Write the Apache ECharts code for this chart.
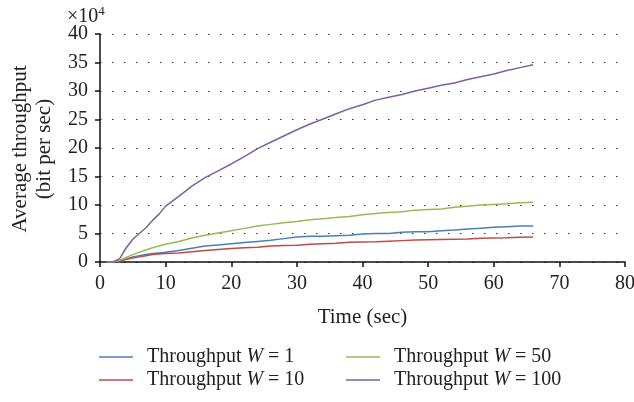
<!DOCTYPE html>
<html>
<head>
<meta charset="utf-8">
<script src="https://cdn.jsdelivr.net/npm/echarts@6/dist/echarts.min.js"></script>
<style>
  html, body { margin: 0; padding: 0; background: #fff; }
  #chart { width: 634px; height: 402px; }
</style>
</head>
<body>
<div id="chart"></div>
<script>
// time in sec, throughput in units of 10^4 bit per sec
var times = [1, 2, 3, 4, 5, 6, 7, 8, 9, 10, 12, 14, 16, 18, 20, 22, 24, 26, 28, 30,
  32, 34, 36, 38, 40, 42, 44, 46, 48, 50, 52, 54, 56, 58, 60, 62, 64, 66];
var w1 = [0, 0, 0.2, 0.5, 0.9, 1.1, 1.3, 1.5, 1.6, 1.7, 2.0, 2.4, 2.8, 3.0, 3.2, 3.4, 3.6, 3.8, 4.1, 4.4,
  4.5, 4.5, 4.6, 4.7, 4.9, 5.0, 5.0, 5.2, 5.3, 5.3, 5.5, 5.6, 5.8, 5.9, 6.1, 6.2, 6.3, 6.3];
var w10 = [0, 0, 0.2, 0.5, 0.7, 0.9, 1.1, 1.3, 1.4, 1.5, 1.6, 1.8, 2.0, 2.2, 2.35, 2.5, 2.6, 2.8, 2.9, 2.95,
  3.1, 3.2, 3.3, 3.45, 3.5, 3.55, 3.65, 3.75, 3.85, 3.9, 3.95, 4.0, 4.05, 4.15, 4.2, 4.25, 4.35, 4.4];
var w50 = [0, 0, 0.3, 0.8, 1.3, 1.7, 2.1, 2.5, 2.8, 3.1, 3.6, 4.2, 4.7, 5.1, 5.5, 5.9, 6.3, 6.6, 6.9, 7.1,
  7.4, 7.6, 7.8, 8.0, 8.3, 8.5, 8.7, 8.8, 9.1, 9.2, 9.3, 9.6, 9.8, 10.0, 10.1, 10.2, 10.4, 10.5];
var w100 = [0, 0, 0.6, 2.5, 4.0, 5.0, 6.0, 7.3, 8.4, 9.8, 11.5, 13.3, 14.8, 16.0, 17.2, 18.5, 19.9, 21.0, 22.1, 23.2,
  24.2, 25.1, 26.0, 26.9, 27.6, 28.4, 28.9, 29.4, 30.0, 30.5, 31.0, 31.4, 32.0, 32.5, 33.0, 33.6, 34.1, 34.6];
var seriesNames = ["Throughput W = 1", "Throughput W = 10", "Throughput W = 50", "Throughput W = 100"];
var colors = ["#4a7ebb", "#be4b48", "#98b954", "#7d60a0"];

var font = "'Liberation Serif', 'DejaVu Serif', serif";

function pairs(ys) {
  return times.map(function (t, i) { return [t, ys[i]]; });
}

function legendLabel(name) {
  // italic W like the figure
  return name.replace("W", "{i|W}");
}

var legendText = {
  fontFamily: font,
  fontSize: 20,
  color: "#222",
  padding: [0, 0, 0, 9],
  rich: { i: { fontFamily: font, fontSize: 20, fontStyle: "italic", color: "#222" } }
};

var chart = echarts.init(document.getElementById("chart"));
chart.setOption({
  animation: false,
  textStyle: { fontFamily: font },
  color: colors,
  grid: { left: 100, right: 9, top: 34, bottom: 140, outerBoundsMode: "none" },
  graphic: [
    {
      type: "text",
      left: 67,
      top: 5,
      style: {
        text: "×10{s|4}",
        font: "20px " + font,
        fill: "#222",
        rich: { s: { fontSize: 13, fontFamily: font, verticalAlign: "top", padding: [0, 0, 10, 0] } }
      }
    },
    {
      type: "text",
      x: 32,
      y: 149,
      rotation: Math.PI / 2,
      style: {
        text: "Average throughput\n(bit per sec)",
        font: "21px " + font,
        fill: "#222",
        align: "center",
        verticalAlign: "middle",
        lineHeight: 24
      }
    }
  ],
  legend: [
    {
      data: [seriesNames[0], seriesNames[1]],
      orient: "vertical",
      left: 94,
      top: 342,
      icon: "rect",
      itemWidth: 34,
      itemHeight: 1.5,
      itemGap: 3,
      formatter: legendLabel,
      textStyle: legendText
    },
    {
      data: [seriesNames[2], seriesNames[3]],
      orient: "vertical",
      left: 341,
      top: 342,
      icon: "rect",
      itemWidth: 34,
      itemHeight: 1.5,
      itemGap: 3,
      formatter: legendLabel,
      textStyle: legendText
    }
  ],
  xAxis: {
    type: "value",
    min: 0,
    max: 80,
    interval: 10,
    name: "Time (sec)",
    nameLocation: "middle",
    nameGap: 45,
    nameTextStyle: { fontFamily: font, fontSize: 21, color: "#222" },
    axisLine: { lineStyle: { color: "#111", width: 1.5 } },
    axisTick: { show: true, length: 5, lineStyle: { color: "#111", width: 1.5 } },
    axisLabel: { fontFamily: font, fontSize: 20, color: "#222", margin: 12 },
    splitLine: { show: false }
  },
  yAxis: {
    type: "value",
    min: 0,
    max: 40,
    interval: 5,
    axisLine: { show: true, lineStyle: { color: "#111", width: 1.5 } },
    axisTick: { show: true, length: 5, lineStyle: { color: "#111", width: 1.5 } },
    axisLabel: { fontFamily: font, fontSize: 20, color: "#222", margin: 12 },
    splitLine: {
      show: true,
      lineStyle: { color: "#333", width: 1, type: [1.5, 10.5] }
    }
  },
  series: [
    { name: seriesNames[0], type: "line", data: pairs(w1), symbol: "none", lineStyle: { width: 1.5 } },
    { name: seriesNames[1], type: "line", data: pairs(w10), symbol: "none", lineStyle: { width: 1.5 } },
    { name: seriesNames[2], type: "line", data: pairs(w50), symbol: "none", lineStyle: { width: 1.5 } },
    { name: seriesNames[3], type: "line", data: pairs(w100), symbol: "none", lineStyle: { width: 1.5 } }
  ]
});
</script>
</body>
</html>
